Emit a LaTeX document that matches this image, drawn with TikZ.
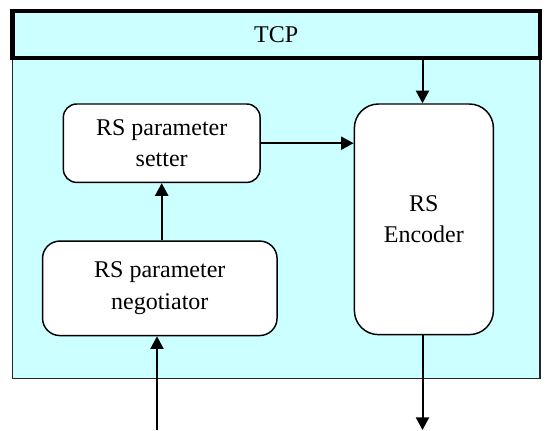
\documentclass[tikz,border=0pt]{standalone}
\usepackage{fontspec}
\setmainfont{Liberation Serif}
\usetikzlibrary{arrows.meta}
\definecolor{bgcyan}{HTML}{CCFFFF}
\tikzset{
  blk/.style={draw=black, line width=1.1pt, fill=white, rounded corners=#1, align=center,
    font=\fontsize{18}{23.5}\selectfont, inner sep=0pt},
  conn/.style={line width=1.5pt, -{Triangle[length=9.5pt,width=9.8pt]}},
}
\begin{document}
\begin{tikzpicture}[x=0.75pt,y=-0.75pt]
\useasboundingbox (0,0) rectangle (550,430);
% body
\node[draw=black!85, line width=0.9pt, fill=bgcyan, minimum width=527.7*0.75pt, minimum height=320*0.75pt, inner sep=0pt] (body) at (276.15,218.1) {};
% TCP bar
\node[draw=black, line width=3.3pt, fill=bgcyan, minimum width=527.7*0.75pt, minimum height=47.2*0.75pt, inner sep=0pt, font=\fontsize{18}{23.5}\selectfont] (tcp) at (276.15,34.5) {TCP};
% blocks
\node[blk=10pt, minimum width=196.7*0.75pt, minimum height=78.4*0.75pt] (set) at (161.7,143.2) {RS parameter\\setter};
\node[blk=18pt, minimum width=139*0.75pt, minimum height=230.6*0.75pt] (enc) at (423.9,219.3) {RS\\Encoder};
\node[blk=13pt, minimum width=234.5*0.75pt, minimum height=94.5*0.75pt] (neg) at (159.8,288.3) {RS parameter\\negotiator};
% free ends
\coordinate (in) at (157,430);
\coordinate (out) at (422.5,430);
% connectors
\draw[conn] (tcp.south -| out) -- (enc.north -| out);
\draw[conn] (set.east) -- (enc.west |- set.east);
\draw[conn] (neg.north -| set.south) -- (set.south);
\draw[conn] (in) -- (in |- neg.south);
\draw[conn] (enc.south -| out) -- (out);
\end{tikzpicture}
\end{document}
